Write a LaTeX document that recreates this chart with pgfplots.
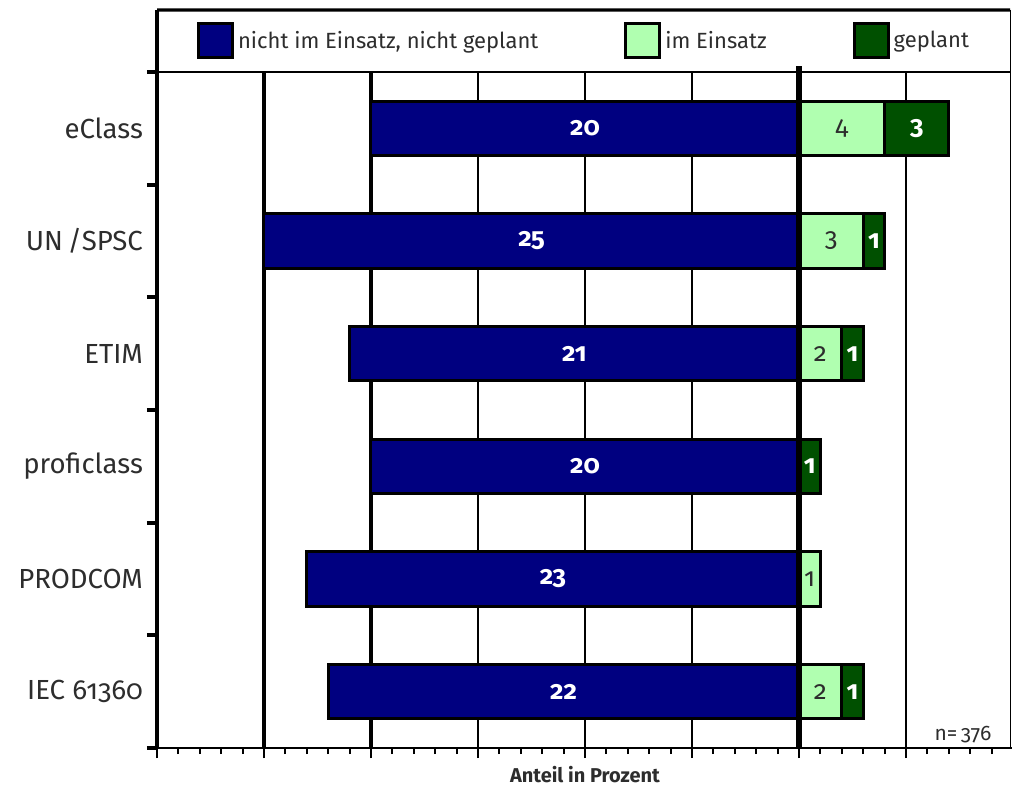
\documentclass[border=0pt]{standalone}
\usepackage{pgfplots}
\pgfplotsset{compat=1.18}
\usepackage{fontspec}
\setmainfont{Fira Sans}[Numbers=OldStyle]

\definecolor{navybar}{RGB}{0,0,128}
\definecolor{lightbar}{RGB}{176,255,176}
\definecolor{darkbar}{RGB}{0,80,0}
\definecolor{txt}{RGB}{45,45,45}

% shared geometry of the stacked layers
\pgfplotsset{
  layer/.style={
    width=428pt, height=338pt, scale only axis,
    at={(0,0)}, anchor=south west,
    xmin=-30, xmax=10, ymin=0, ymax=6,
    clip=false,
  },
  barstyle/.style={draw=black, line width=1.5pt},
}

\begin{document}
\begin{tikzpicture}
\path[use as bounding box] (-78.5pt,-19.5pt) rectangle (427.5pt,374pt);

% base layer: ticks, grid, category labels, legend and the "nicht im Einsatz" bars
\begin{axis}[layer,
  axis line style={draw=none},
  tick align=outside,
  xtick pos=bottom, ytick pos=left,
  xtick={-30,-25,...,10}, xticklabels={},
  minor x tick num=4,
  major tick length=5pt, minor tick length=3pt,
  xtick style={black, line width=1pt},
  minor tick style={line width=0.8pt},
  xmajorgrids, major grid style={black, line width=1pt},
  extra x ticks={-30,-25,-20}, extra x tick labels={},
  extra x tick style={major grid style={black, line width=2pt}, major tick style={line width=2pt}},
  ytick={0,1,...,6},
  y tick label as interval,
  yticklabels={IEC 61360, PRODCOM, proficlass, ETIM, UN\,/SPSC, eClass},
  ytick style={black, line width=2pt},
  yticklabel style={font=\fontsize{13.8}{15}\selectfont, text=txt, xshift=1.5pt},
  xlabel={Anteil in Prozent},
  every axis x label/.style={at={(rel axis cs:0.5,0)}, anchor=center, yshift=-13.5pt,
    font=\bfseries\fontsize{10}{11}\selectfont, text=txt},
  legend columns=3,
  legend image code/.code={\draw[#1] (0pt,-8.5pt) rectangle (17pt,8.5pt);},
  legend style={at={(0.5,1.0459)}, anchor=center, draw=none, fill=none,
    font=\fontsize{11}{12}\selectfont, text=txt,
    /tikz/every even column/.append style={column sep=41pt}},
]
\addlegendimage{fill=navybar, draw=black, line width=1.5pt}
\addlegendentry{nicht im Einsatz, nicht geplant}
\addlegendimage{fill=lightbar, draw=black, line width=1.5pt}
\addlegendentry{im Einsatz}
\addlegendimage{fill=darkbar, draw=black, line width=1.5pt}
\addlegendentry{geplant}

\addplot[xbar, bar width=0.48, bar shift=0pt, fill=navybar, barstyle, forget plot]
  coordinates {(-22,0.5) (-23,1.5) (-20,2.5) (-21,3.5) (-25,4.5) (-20,5.5)};
\end{axis}

% right-hand stacked bars: im Einsatz + geplant
\begin{axis}[layer, hide axis, xbar stacked, bar width=0.48, bar shift=0pt]
\addplot[fill=lightbar, barstyle]
  coordinates {(2,0.5) (1,1.5) (0,2.5) (2,3.5) (3,4.5) (4,5.5)};
\addplot[fill=darkbar, barstyle]
  coordinates {(1,0.5) (0,1.5) (1,2.5) (1,3.5) (1,4.5) (3,5.5)};
\end{axis}

% value labels, zero line and frame
\begin{axis}[layer, hide axis,
  nodes near coords, point meta=explicit symbolic,
]
\addplot[draw=none, nodes near coords style={anchor=center, text=white,
    font=\bfseries\fontsize{13}{14}\selectfont}]
  coordinates {(-11,0.5)[22] (-11.5,1.5)[23] (-10,2.5)[20] (-10.5,3.5)[21] (-12.5,4.5)[25] (-10,5.5)[20]};
\addplot[draw=none, nodes near coords style={anchor=center, text=txt,
    font=\fontsize{13}{14}\selectfont}]
  coordinates {(1,0.5)[2] (0.5,1.5)[1] (1,3.5)[2] (1.5,4.5)[3] (2,5.5)[4]};
\addplot[draw=none, nodes near coords style={anchor=center, text=white,
    font=\bfseries\fontsize{13}{14}\selectfont}]
  coordinates {(2.5,0.5)[1] (0.5,2.5)[1] (2.5,3.5)[1] (3.5,4.5)[1] (5.5,5.5)[3]};

\draw[line width=3pt] (axis cs:0,0) -- (axis cs:0,6.05);
\draw[line width=2pt] (rel axis cs:0,0) -- (rel axis cs:0,1.0917);
\draw[line width=1.6pt] (rel axis cs:0,1.0917) -- (axis cs:9.87,6.55);
\draw[line width=0.6pt] (axis cs:9.87,0) -- (axis cs:9.87,6.55);
\draw[line width=0.6pt] (rel axis cs:0,1) -- (axis cs:9.87,6);
\draw[line width=1pt] (rel axis cs:-0.0106,0) -- (rel axis cs:1.0023,0);
\node[anchor=east, text=txt, font=\fontsize{10.5}{12}\selectfont]
  at (rel axis cs:0.983,0.02) {n=\,376};
\end{axis}
\end{tikzpicture}
\end{document}
